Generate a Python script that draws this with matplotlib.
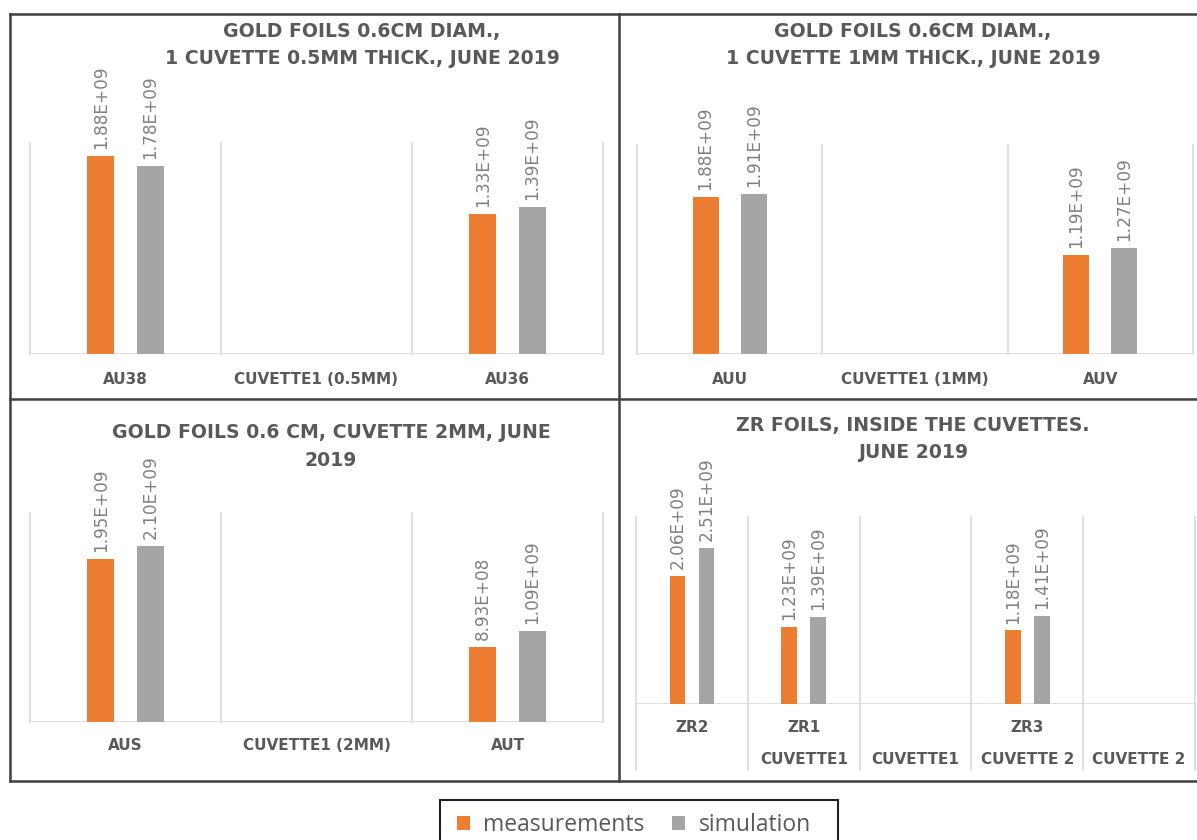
import numpy as np
import matplotlib
matplotlib.use("Agg")
import matplotlib.pyplot as plt
from matplotlib.patches import Patch, Rectangle
from matplotlib.lines import Line2D

plt.rcParams["font.family"] = ["Open Sans", "DejaVu Sans"]

# ---- data -------------------------------------------------------------
p1_cats = ["AU38", "CUVETTE1 (0.5MM)", "AU36"]
p1_meas = [1.88e9, np.nan, 1.33e9]
p1_sim = [1.78e9, np.nan, 1.39e9]

p2_cats = ["AUU", "CUVETTE1 (1MM)", "AUV"]
p2_meas = [1.88e9, np.nan, 1.19e9]
p2_sim = [1.91e9, np.nan, 1.27e9]

p3_cats = ["AUS", "CUVETTE1 (2MM)", "AUT"]
p3_meas = [1.95e9, np.nan, 8.93e8]
p3_sim = [2.10e9, np.nan, 1.09e9]

p4_foils = ["ZR2", "ZR1", "", "ZR3", ""]
p4_cuvettes = ["", "CUVETTE1", "CUVETTE1", "CUVETTE 2", "CUVETTE 2"]
p4_meas = [2.06e9, 1.23e9, np.nan, 1.18e9, np.nan]
p4_sim = [2.51e9, 1.39e9, np.nan, 1.41e9, np.nan]

titles = [
    ["GOLD FOILS 0.6CM DIAM.,", "1 CUVETTE 0.5MM THICK., JUNE 2019"],
    ["GOLD FOILS 0.6CM DIAM.,", "1 CUVETTE 1MM THICK., JUNE 2019"],
    ["GOLD FOILS 0.6 CM, CUVETTE 2MM, JUNE", "2019"],
    ["ZR FOILS, INSIDE THE CUVETTES.", "JUNE 2019"],
]
series_names = ["measurements", "simulation"]

# ---- style ------------------------------------------------------------
ORANGE = "#ED7D31"
GRAY = "#A5A5A5"
TEXT = "#595959"
LABEL = "#808080"
GRID = "#D9D9D9"
HEAD_FONT = ["DejaVu Sans"]

W, H = 1197, 840
fig = plt.figure(figsize=(W / 100, H / 100), dpi=100)


def fx(px):
    return px / W


def fy(py):
    return 1 - py / H


def make_axes(x0, x1, ytop, ybase):
    return fig.add_axes([fx(x0), fy(ybase), fx(x1 - x0), (ybase - ytop) / H])


def draw_bars(ax, meas, sim, ymax, label_rows, label_y):
    n = len(meas)
    x = np.arange(n)
    off, w = 0.13, 0.14
    for vals, dx, col in ((meas, -off, ORANGE), (sim, off, GRAY)):
        vals = np.asarray(vals, dtype=float)
        ok = ~np.isnan(vals)
        ax.bar(x[ok] + dx, vals[ok], width=w, color=col, zorder=3)
        for xi, v in zip(x[ok] + dx, vals[ok]):
            ax.annotate(f"{v:.2E}", (xi, v), xytext=(0, 5),
                        textcoords="offset points", rotation=90,
                        ha="center", va="bottom", fontsize=12.2,
                        family=["DejaVu Sans"], color=LABEL,
                        annotation_clip=False)
    ax.set_xlim(-0.5, n - 0.5)
    ax.set_ylim(0, ymax)
    ax.set_xticks([])
    ax.set_yticks([])
    for s in ax.spines.values():
        s.set_visible(False)
    ax.axhline(0, color=GRID, lw=1.2, zorder=2)
    # category label rows
    for labels, yf in zip(label_rows, label_y):
        for xi, lab in enumerate(labels):
            ax.text(xi, yf, lab, transform=ax.get_xaxis_transform(),
                    ha="center", va="center", fontsize=11,
                    fontweight="bold", family=HEAD_FONT, color=TEXT)


def dividers(ax, n, ybottom):
    tr = ax.get_xaxis_transform()
    for b in np.arange(n + 1) - 0.5:
        ax.add_line(Line2D([b, b], [ybottom, 1], transform=tr, color=GRID,
                           lw=1.2, zorder=1, clip_on=False))


# panel 1
ax1 = make_axes(30, 603, 143, 354)
draw_bars(ax1, p1_meas, p1_sim, 2.0e9, [p1_cats], [-25 / 211])
dividers(ax1, 3, 0)

# panel 2
ax2 = make_axes(637, 1193, 145, 354)
draw_bars(ax2, p2_meas, p2_sim, 2.5e9, [p2_cats], [-25 / 209])
dividers(ax2, 3, 0)

# panel 3
ax3 = make_axes(30, 603, 513, 722)
draw_bars(ax3, p3_meas, p3_sim, 2.5e9, [p3_cats], [-23 / 209])
dividers(ax3, 3, 0)

# panel 4 (two-level category axis)
ax4 = make_axes(636, 1195, 517, 704)
draw_bars(ax4, p4_meas, p4_sim, 3.0e9, [p4_foils, p4_cuvettes],
          [-23 / 187, -56 / 187])
dividers(ax4, 5, -66 / 187)

# titles
title_pos = [(362, 31, 58), (913, 31, 58), (331, 433, 460), (913, 426, 453)]
for (cx, y1, y2), lines in zip(title_pos, titles):
    for yy, line in zip((y1, y2), lines):
        fig.text(fx(cx), fy(yy), line, ha="center", va="center",
                 fontsize=13.6, fontweight="bold", family=HEAD_FONT,
                 color=TEXT)

# panel frames
frame_kw = dict(color="#404040", lw=1.8, transform=fig.transFigure)
fig.add_artist(Line2D([fx(10), fx(1200)], [fy(14), fy(14)], **frame_kw))
fig.add_artist(Line2D([fx(10), fx(1200)], [fy(781), fy(781)], **frame_kw))
fig.add_artist(Line2D([fx(10), fx(10)], [fy(14), fy(781)], **frame_kw))
fig.add_artist(Line2D([fx(619), fx(619)], [fy(14), fy(781)], **frame_kw))
fig.add_artist(Line2D([fx(10), fx(1200)], [fy(399), fy(399)], **frame_kw))

# legend
fig.add_artist(Rectangle((fx(440), fy(850)), fx(838 - 440), (850 - 800) / H,
                         transform=fig.transFigure, fill=False,
                         edgecolor="#202020", lw=1.5))
handles = [Patch(facecolor=ORANGE, edgecolor="none"),
           Patch(facecolor=GRAY, edgecolor="none")]
fig.legend(handles, series_names, ncol=2, frameon=False, loc="center",
           bbox_to_anchor=(fx(634), fy(825)), fontsize=16.5,
           handlelength=0.55, handleheight=0.55, handletextpad=0.6,
           columnspacing=1.2, labelcolor=TEXT)

fig.savefig("out.png", dpi=100)
